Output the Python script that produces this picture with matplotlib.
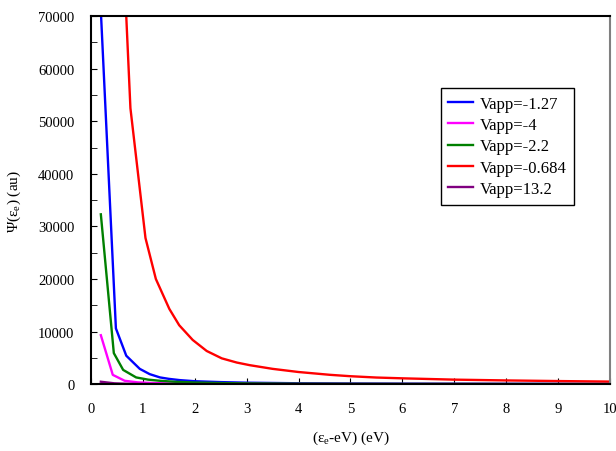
import matplotlib
matplotlib.use("Agg")
import matplotlib.pyplot as plt
from matplotlib.ticker import MultipleLocator

# Valores
labels = ["Vapp=-1.27", "Vapp=-4", "Vapp=-2.2", "Vapp=-0.684", "Vapp=13.2"]
colors = ["#0000ff", "#ff00ff", "#008000", "#ff0000", "#800080"]

x_blue = [0.19, 0.48, 0.68, 0.94, 1.13, 1.33, 1.5, 1.71, 2.0, 2.5, 3.0, 4.0, 5.0, 6.0, 8.0, 10.0]
y_blue = [71000, 10600, 5400, 2900, 1900, 1270, 1000, 760, 550, 380, 270, 160, 110, 80, 50, 35]

x_pink = [0.19, 0.42, 0.65, 0.9, 1.2, 1.5, 2.0, 3.0, 4.0, 6.0, 8.0, 10.0]
y_pink = [9300, 1760, 630, 330, 200, 130, 75, 35, 20, 10, 6, 4]

x_green = [0.19, 0.44, 0.62, 0.87, 1.1, 1.33, 1.6, 2.0, 2.5, 3.0, 4.0, 5.0, 6.0, 8.0, 10.0]
y_green = [32300, 5900, 2700, 1270, 850, 630, 450, 300, 200, 140, 80, 55, 40, 25, 15]

x_red = [0.45, 0.76, 1.05, 1.25, 1.51, 1.70, 1.96, 2.23, 2.52, 2.81, 3.06, 3.5, 4.0,
         4.6, 5.0, 5.5, 6.0, 7.0, 8.0, 9.0, 10.0]
y_red = [120000, 52500, 27800, 20000, 14300, 11200, 8400, 6300, 4900, 4100, 3600, 2900, 2300,
         1770, 1500, 1250, 1100, 850, 700, 580, 480]

x_purple = [0.19, 0.45, 0.7, 1.0, 1.5, 2.0, 3.0, 5.0, 10.0]
y_purple = [450, 150, 60, 30, 15, 8, 4, 2, 1]

series = [(x_blue, y_blue), (x_pink, y_pink), (x_green, y_green),
          (x_red, y_red), (x_purple, y_purple)]

plt.rcParams["font.family"] = ["Liberation Serif", "DejaVu Serif"]
plt.rcParams["mathtext.fontset"] = "custom"
plt.rcParams["mathtext.rm"] = "Liberation Serif"

fig = plt.figure(figsize=(6.16, 4.52), dpi=100)
ax = fig.add_axes([0.1477, 0.148, 0.8425, 0.814])

for (xs, ys), lab, c in zip(series, labels, colors):
    ax.plot(xs, ys, color=c, lw=1.7, label=lab)

ax.set_xlim(0, 10)
ax.set_ylim(0, 70000)
ax.xaxis.set_major_locator(MultipleLocator(1))
ax.yaxis.set_major_locator(MultipleLocator(10000))
ax.yaxis.set_minor_locator(MultipleLocator(5000))
ax.tick_params(which="both", direction="in", labelsize=10.5, color="black")
ax.tick_params(axis="x", which="major", length=4, pad=13)
ax.tick_params(axis="y", which="major", length=4, pad=12)
ax.tick_params(axis="y", which="minor", length=4)

for s in ["left", "bottom", "top"]:
    ax.spines[s].set_color("black")
    ax.spines[s].set_linewidth(1.5)
ax.spines["right"].set_color("#808080")
ax.spines["right"].set_linewidth(1.5)

ax.set_xlabel("(ε$_\\mathrm{e}$-eV) (eV)", fontsize=11, labelpad=10)
ax.set_ylabel("Ψ(ε$_\\mathrm{e}$) (au)", fontsize=11, labelpad=11)

leg = ax.legend(loc="upper left", bbox_to_anchor=(0.674, 0.804), borderaxespad=0,
                fontsize=12, frameon=True, fancybox=False, edgecolor="black",
                framealpha=1, handlelength=1.5, borderpad=0.45, labelspacing=0.32,
                handletextpad=0.4)
leg.get_frame().set_linewidth(1.0)

fig.savefig("out.png", dpi=100)
